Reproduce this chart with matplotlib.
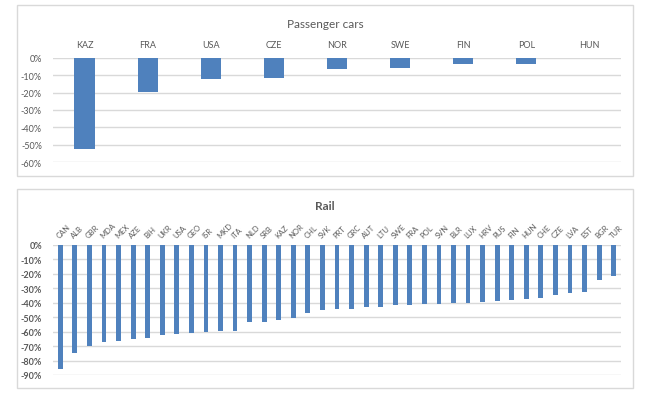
import matplotlib.pyplot as plt
from matplotlib.patches import Rectangle
from matplotlib.ticker import PercentFormatter

# passenger cars, change in %
car_countries = ['KAZ', 'FRA', 'USA', 'CZE', 'NOR', 'SWE', 'FIN', 'POL', 'HUN']
car_values = [-52.5, -19.7, -12.4, -11.7, -6.7, -5.9, -3.6, -3.6, 0.0]

# rail, change in %
rail_countries = ['CAN', 'ALB', 'GBR', 'MDA', 'MEX', 'AZE', 'BIH', 'UKR', 'USA', 'GEO',
                  'ISR', 'MKD', 'ITA', 'NLD', 'SRB', 'KAZ', 'NOR', 'CHL', 'SVK', 'PRT',
                  'GRC', 'AUT', 'LTU', 'SWE', 'FRA', 'POL', 'SVN', 'BLR', 'LUX', 'HRV',
                  'RUS', 'FIN', 'HUN', 'CHE', 'CZE', 'LVA', 'EST', 'BGR', 'TUR']
rail_values = [-86.2, -74.9, -70.0, -67.3, -66.8, -65.2, -64.1, -62.4, -61.8, -61.0,
               -60.1, -59.4, -59.4, -53.7, -53.5, -52.1, -50.7, -47.0, -44.9, -44.7,
               -44.7, -43.3, -43.3, -41.5, -41.5, -40.8, -40.8, -40.3, -40.0, -39.9,
               -38.9, -38.5, -37.3, -36.6, -35.0, -33.6, -32.9, -24.4, -21.7]

blue = '#4F81BD'
grid = '#D9D9D9'
txt = '#595959'
plt.rcParams['font.family'] = ['Lato', 'DejaVu Sans']
plt.rcParams['axes.unicode_minus'] = False

W, H = 651, 406
fig = plt.figure(figsize=(W / 100, H / 100), dpi=100)

def fbox(x0, y0, x1, y1):
    # pixel box -> figure fraction
    return [x0 / W, 1 - y1 / H, (x1 - x0) / W, (y1 - y0) / H]

for (x0, y0, x1, y1) in [(17, 6, 633, 177), (17, 190, 633, 389)]:
    fig.add_artist(Rectangle((x0 / W, 1 - y1 / H), (x1 - x0) / W, (y1 - y0) / H,
                             transform=fig.transFigure, fill=False,
                             edgecolor=grid, linewidth=1))

def style(ax, ymin, step):
    ax.set_ylim(ymin, 0)
    ax.set_yticks(range(0, ymin - 1, -step))
    ax.yaxis.set_major_formatter(PercentFormatter(decimals=0))
    ax.grid(axis='y', color=grid, linewidth=1)
    ax.set_axisbelow(True)
    for s in ax.spines.values():
        s.set_visible(False)
    ax.tick_params(length=0, colors=txt)
    ax.xaxis.tick_top()

# passenger cars
ax1 = fig.add_axes(fbox(53, 58.7, 621, 163.3))
ax1.bar(car_countries, car_values, width=0.32, color=blue)
ax1.set_xlim(-0.5, len(car_countries) - 0.5)
style(ax1, -60, 10)
ax1.tick_params(axis='x', labelsize=6.5, pad=6)
ax1.tick_params(axis='y', labelsize=6.5, pad=8)
fig.text(325 / W, 1 - 24 / H, 'Passenger cars', ha='center', va='center',
         fontsize=8.5, color=txt)

# rail
ax2 = fig.add_axes(fbox(53, 245.7, 621, 376))
ax2.bar(rail_countries, rail_values, width=0.33, color=blue)
ax2.set_xlim(-0.5, len(rail_countries) - 0.5)
style(ax2, -90, 10)
ax2.tick_params(axis='y', labelsize=6.5, pad=8)
ax2.tick_params(axis='x', labelsize=5.5, pad=4)
for lab in ax2.get_xticklabels():
    lab.set_rotation(45)
    lab.set_ha('left')
    lab.set_va('bottom')
    lab.set_rotation_mode('anchor')
for lab in ax2.get_yticklabels():
    lab.set_fontweight('bold')
fig.text(325 / W, 1 - 207 / H, 'Rail', ha='center', va='center',
         fontsize=8.5, color=txt, fontweight='bold')

fig.savefig('out.png', dpi=100)
